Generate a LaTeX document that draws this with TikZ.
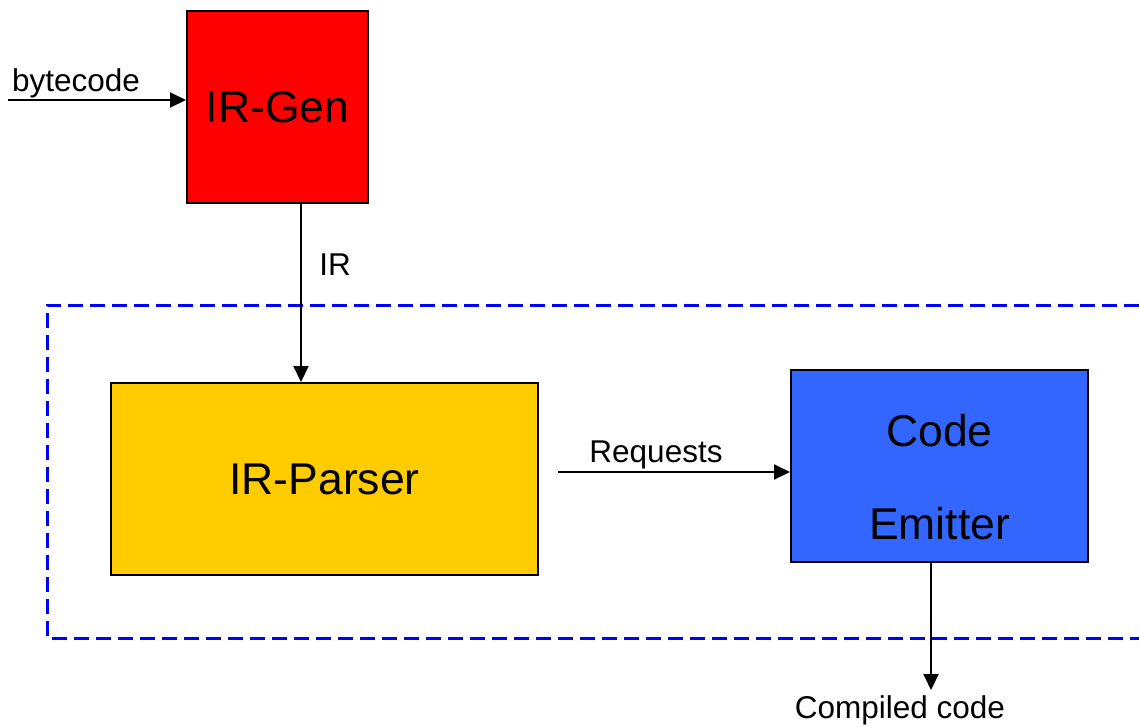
\documentclass[tikz,border=0pt]{standalone}
\usepackage{fontspec}
\setmainfont{Liberation Sans}
\usetikzlibrary{arrows.meta}
\definecolor{genred}{HTML}{FF0000}
\definecolor{parseryellow}{HTML}{FFCC00}
\definecolor{emitblue}{HTML}{3366FF}
\definecolor{dashblue}{HTML}{0000FF}
\tikzset{
  blockbox/.style={draw=black, line width=2pt, inner sep=0pt, minimum width=#1},
  bigtext/.style={font=\fontsize{44.5}{93}\selectfont},
  smalltext/.style={font=\fontsize{31.5}{38}\selectfont, inner sep=0pt},
  flow/.style={draw=black, line width=2pt, -{Triangle[length=16pt,width=15pt]}},
  region/.style={draw=dashblue, line width=3pt, dash pattern=on 15pt off 7pt}
}
\begin{document}
\begin{tikzpicture}[x=1pt,y=-1pt]
\useasboundingbox (0,0) rectangle (1139,726);
% dashed region
\draw[region] (1139,305) -- (47,305) -- (47,638) -- (1139,638);
% blocks
\node[blockbox=181pt, minimum height=192pt, fill=genred, bigtext] (irgen) at (277.5,107) {IR-Gen};
\node[blockbox=427pt, minimum height=192pt, fill=parseryellow, bigtext] (irparser) at (324.5,479) {IR-Parser};
\node[blockbox=297pt, minimum height=192pt, fill=emitblue] (emitter) at (939.5,466) {};
\node[bigtext, align=center, inner sep=0pt] (emittertext) at (939.5,477) {Code\\Emitter};
% coordinates
\coordinate (bstart) at (8,100);
\coordinate (irx) at (301,0);
\coordinate (rstart) at (558,472);
\coordinate (cx) at (931,0);
\coordinate (cend) at (931,690);
% connectors
\draw[flow] (bstart) -- (bstart -| irgen.west);
\draw[flow] (irgen.south -| irx) -- (irparser.north -| irx);
\draw[flow] (rstart) -- (rstart -| emitter.west);
\draw[flow] (emitter.south -| cx) -- (cend);
% labels
\node[smalltext] (lbyte) at (76,83) {bytecode};
\node[smalltext] (lir) at (335,265) {IR};
\node[smalltext] (lreq) at (656,455) {Requests};
\node[smalltext] (lcomp) at (900,710) {Compiled code};
\end{tikzpicture}
\end{document}
